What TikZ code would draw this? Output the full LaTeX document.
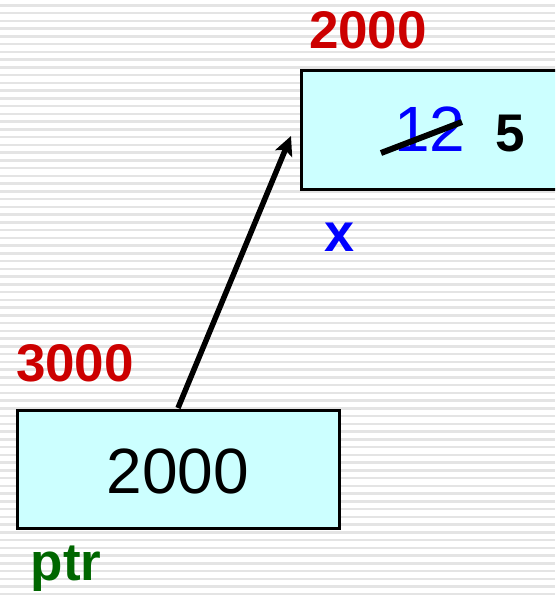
\documentclass[tikz,border=0pt]{standalone}
\usepackage{fontspec}
\setmainfont{Liberation Sans}
\usetikzlibrary{arrows.meta}
\definecolor{cellfill}{HTML}{CCFFFF}
\definecolor{addrred}{HTML}{CC0000}
\definecolor{namegreen}{HTML}{006600}
\definecolor{stripe}{HTML}{E4E4E4}
\tikzset{
  cell/.style={draw=black, line width=3pt, fill=cellfill, inner sep=0pt, anchor=north west},
  addr/.style={text=addrred, font=\fontsize{53}{53}\selectfont\bfseries, inner sep=0pt},
  valtxt/.style={font=\fontsize{64}{64}\selectfont, inner sep=0pt},
  link/.style={line width=5.5pt, -{Stealth[length=19pt,width=18pt,inset=4pt]}}
}
\begin{document}
\begin{tikzpicture}[x=1pt,y=-1pt]
\useasboundingbox (0,0) rectangle (555,595);
\fill[white] (0,0) rectangle (555,595);
\foreach \i in {0,...,76}{
  \fill[stripe] (0,{4+7.75*\i}) rectangle (555,{6.6+7.75*\i});
}
\begin{scope}
\clip (0,0) rectangle (555,595);
\node[cell, minimum width=270pt, minimum height=119pt] (xbox) at (300,68.5) {};
\end{scope}
\node[cell, minimum width=322pt, minimum height=118pt] (pbox) at (16,409) {};
% labels
\node[addr, anchor=base] (xaddr) at (368,48) {2000};
\node[addr, anchor=base] (paddr) at (75,381) {3000};
\node[text=blue, font=\fontsize{54}{54}\selectfont\bfseries, inner sep=0pt, anchor=base] (xname) at (340,251) {x};
\node[text=namegreen, font=\fontsize{53}{53}\selectfont\bfseries, inner sep=0pt, anchor=base] (pname) at (66,580) {ptr};
% contents
\node[valtxt, anchor=base] (pval) at (178,493) {2000};
\node[valtxt, text=blue, anchor=base] (old) at (430,151) {12};
\node[font=\fontsize{53}{53}\selectfont\bfseries, inner sep=0pt, anchor=base] (new) at (510,151) {5};
\coordinate (s1) at (381,153);
\coordinate (s2) at (462,122);
\draw[line width=6pt] (s1) -- (s2);
% arrow
\coordinate (tail) at (178,408);
\coordinate (head) at (291,136);
\draw[link] (tail) -- (head);
\end{tikzpicture}
\end{document}
